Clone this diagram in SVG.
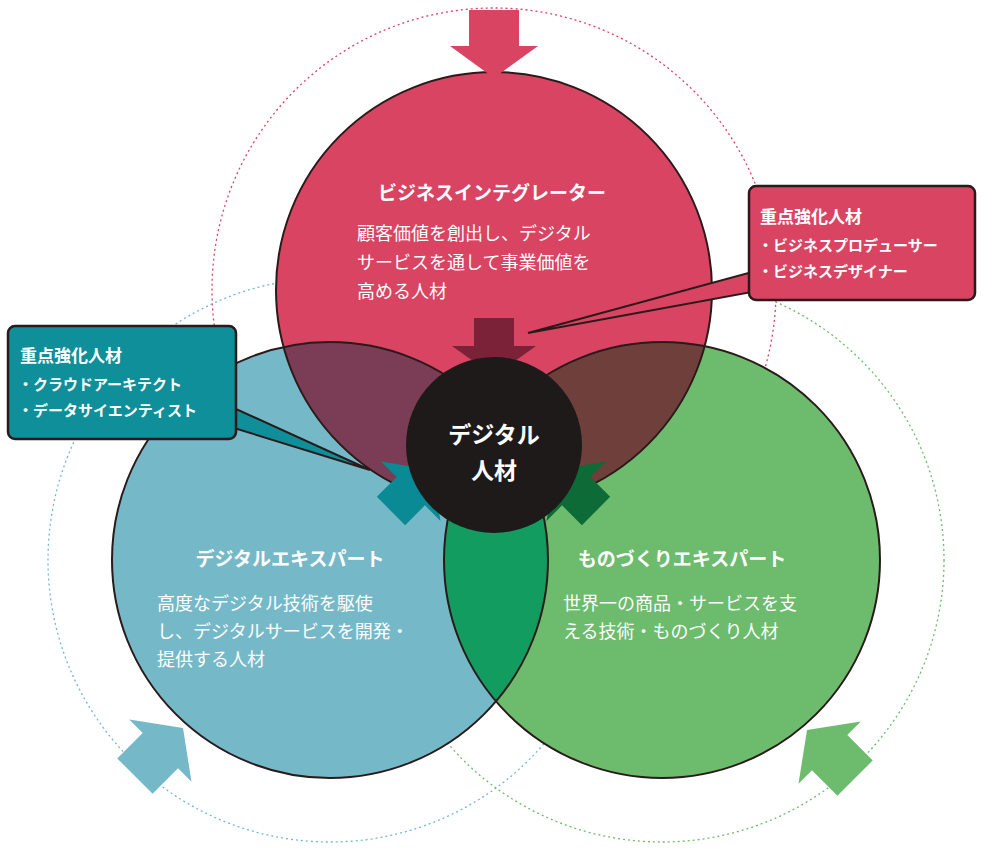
<svg xmlns="http://www.w3.org/2000/svg" width="1000" height="866" viewBox="0 0 1000 866">
<style>
text{font-family:"Noto Sans CJK JP","Noto Sans",sans-serif;fill:#fff}
.t{font-weight:bold;font-size:19px;text-anchor:middle}
.b{font-size:18px}
.ct{font-weight:bold;font-size:17px}
.ci{font-size:15px;font-weight:bold}
.dot{fill:none;stroke-width:1.3;stroke-dasharray:2 3}
.cc{font-weight:bold;font-size:23px;text-anchor:middle}
</style>
<defs>
<clipPath id="cr"><circle cx="494" cy="290" r="218"/></clipPath>
<clipPath id="cb"><circle cx="330" cy="560" r="218"/></clipPath>
<path id="sa" d="M-20,-58 L20,-58 L20,-30 L42,-30 L0,0 L-42,-30 L-20,-30 Z"/>
<path id="ba" d="M-25,-68 L25,-68 L25,-32 L44,-32 L0,0 L-44,-32 L-25,-32 Z"/>
</defs>
<rect width="1000" height="866" fill="#fff"/>
<g id="rings">
<circle class="dot" cx="494" cy="290" r="282" stroke="#d94463"/>
<circle class="dot" cx="330" cy="560" r="282" stroke="#75b9c9"/>
<circle class="dot" cx="662" cy="560" r="282" stroke="#6dbb6d"/>
</g>
<g id="circles">
<circle cx="494" cy="290" r="218" fill="#d94463"/>
<circle cx="330" cy="560" r="218" fill="#75b9c9"/>
<circle cx="662" cy="560" r="218" fill="#6dbb6d"/>
<circle cx="330" cy="560" r="218" fill="#7b3d55" clip-path="url(#cr)"/>
<circle cx="662" cy="560" r="218" fill="#6f3f3c" clip-path="url(#cr)"/>
<circle cx="662" cy="560" r="218" fill="#139c5f" clip-path="url(#cb)"/>
<g fill="#1e1e1e" clip-path="url(#cr)"><circle cx="662" cy="560" r="218" clip-path="url(#cb)"/></g>
<circle cx="330" cy="560" r="218" fill="none" stroke="#2a1a1a" stroke-width="2"/>
<circle cx="662" cy="560" r="218" fill="none" stroke="#2a1a1a" stroke-width="2"/>
<circle cx="494" cy="290" r="218" fill="none" stroke="#2a1a1a" stroke-width="2"/>
</g>
<g id="connectors">
<use href="#ba" transform="translate(494,78)" fill="#d94463"/>
<use href="#ba" transform="translate(183,728) rotate(-135)" fill="#75b9c9"/>
<use href="#ba" transform="translate(807,730) rotate(135)" fill="#6dbb6d"/>
<use href="#sa" transform="translate(494,376)" fill="#7c2238"/>
<use href="#sa" transform="translate(432,470) rotate(-135)" fill="#0a8a94"/>
<use href="#sa" transform="translate(555,470) rotate(135)" fill="#0d6b38"/>
<polygon points="752,272 752,292 528,333" fill="#d94463" stroke="#2a1a1a" stroke-width="2"/>
<polygon points="234,408 234,428 370,470" fill="#0e8f9a" stroke="#2a1a1a" stroke-width="2"/>
</g>
<g id="center">
<circle cx="494" cy="445" r="88" fill="#1e1a1a"/>
<text class="cc" x="494" y="443">デジタル</text>
<text class="cc" x="494" y="479">人材</text>
</g>
<g id="business">
<text class="t" x="492" y="200">ビジネスインテグレーター</text>
<text class="b" x="357" y="240">顧客価値を創出し、デジタル</text>
<text class="b" x="357" y="269">サービスを通して事業価値を</text>
<text class="b" x="357" y="298">高める人材</text>
</g>
<g id="digital">
<text class="t" x="290" y="566">デジタルエキスパート</text>
<text class="b" x="157" y="610">高度なデジタル技術を駆使</text>
<text class="b" x="157" y="638">し、デジタルサービスを開発・</text>
<text class="b" x="157" y="666">提供する人材</text>
</g>
<g id="monozukuri">
<text class="t" x="682" y="566">ものづくりエキスパート</text>
<text class="b" x="563" y="610">世界一の商品・サービスを支</text>
<text class="b" x="563" y="638">える技術・ものづくり人材</text>
</g>
<g id="callout-red">
<rect x="749" y="186" width="226" height="114" rx="7" fill="#d94463" stroke="#2a1a1a" stroke-width="2.5"/>
<polygon points="753,273 753,291 760,289 760,275" fill="#d94463"/>
<text class="ct" x="760" y="223">重点強化人材</text>
<text class="ci" x="758" y="251">・ビジネスプロデューサー</text>
<text class="ci" x="758" y="277">・ビジネスデザイナー</text>
</g>
<g id="callout-teal">
<rect x="8" y="326" width="228" height="113" rx="7" fill="#0e8f9a" stroke="#2a1a1a" stroke-width="2.5"/>
<polygon points="233,409 233,427 228,427 228,409" fill="#0e8f9a"/>
<text class="ct" x="20" y="362">重点強化人材</text>
<text class="ci" x="18" y="390">・クラウドアーキテクト</text>
<text class="ci" x="18" y="416">・データサイエンティスト</text>
</g>
</svg>
